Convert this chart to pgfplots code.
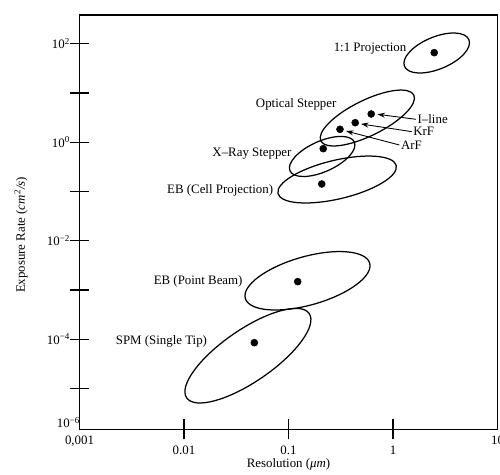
\documentclass[border=0pt]{standalone}
\usepackage{fontspec}
\setmainfont{Liberation Serif}
\usepackage{pgfplots}
\pgfplotsset{compat=1.18}
\usetikzlibrary{arrows.meta,shapes.geometric}
\begin{document}
\fontsize{10.3}{12}\selectfont
\begin{tikzpicture}[font=\fontsize{10.3}{12}\selectfont]
\begin{axis}[
  scale only axis, width=334.4pt, height=331.4pt,
  xmode=log, ymode=log,
  xmin=0.001, xmax=10, ymin=1.493e-6, ymax=382.3,
  axis line style={line width=1.2pt},
  tick style={line width=1.1pt, black},
  major tick length=16pt, tick align=center, tick pos=left,
  xminorticks=false, yminorticks=false,
  xtick={0.01,0.1,1}, xticklabels={0.01,0.1,1},
  ytick={1e-5,1e-4,1e-3,1e-2,1e-1,1,10,100},
  yticklabels={,10\textsuperscript{−4},,10\textsuperscript{−2},,10\textsuperscript{0},,10\textsuperscript{2}},
  extra x ticks={0.001,10}, extra x tick labels={{0,001},10},
  extra y ticks={2.03e-6}, extra y tick labels={10\textsuperscript{−6}},
  extra tick style={major tick length=0pt},
  every x tick label/.append style={yshift=-1.5pt},
  every y tick label/.append style={xshift=4pt},
  every axis x label/.style={at={(axis description cs:0.5,-0.0845)}, anchor=center},
  every axis y label/.style={at={(axis description cs:-0.14,0.469)}, rotate=90, anchor=center},
  xlabel={Resolution (\textit{μm})},
  ylabel={Exposure Rate (\textit{cm}\textsuperscript{2}\textit{/s})},
  clip=false,
]
\addplot[only marks, mark=*, mark size=2.8pt, black] coordinates {
  (2.48,65.7) (0.619,3.74) (0.435,2.49) (0.311,1.83)
  (0.215,0.74) (0.208,0.142) (0.1225,1.48e-3) (0.0471,8.53e-5)};
% ellipses: centre, size, rotation
\tikzset{reg/.style={draw, line width=1pt, ellipse, inner sep=0pt, outer sep=0pt}}
\node[reg, minimum width=55.8pt, minimum height=25.8pt, rotate=22.5] at (axis cs:2.62,64.7) {};
\node[reg, minimum width=83.0pt, minimum height=28.4pt, rotate=26.3] at (axis cs:0.568,3.10) {};
\node[reg, minimum width=56.4pt, minimum height=24.4pt, rotate=24.2] at (axis cs:0.210,0.514) {};
\node[reg, minimum width=97.2pt, minimum height=31.0pt, rotate=13.3] at (axis cs:0.292,0.175) {};
\node[reg, minimum width=103.4pt, minimum height=38.8pt, rotate=15.8] at (axis cs:0.152,1.54e-3) {};
\node[reg, minimum width=119.0pt, minimum height=41.6pt, rotate=34.55] at (axis cs:0.0409,4.65e-5) {};
% labels
\node[anchor=east, inner sep=0pt] at (axis cs:1.35,78.0) {1:1 Projection};
\node[anchor=east, inner sep=0pt] at (axis cs:0.289,5.97) {Optical Stepper};
\node[anchor=east, inner sep=0pt] at (axis cs:0.1074,0.597) {X--Ray Stepper};
\node[anchor=east, inner sep=0pt] at (axis cs:0.0716,0.1073) {EB (Cell Projection)};
\node[anchor=east, inner sep=0pt] at (axis cs:0.0365,1.48e-3) {EB (Point Beam)};
\node[anchor=east, inner sep=0pt] at (axis cs:0.0167,8.95e-5) {SPM (Single Tip)};
% arrows
\draw[line width=0.7pt, -{Stealth[length=6pt,width=4pt]}] (axis cs:1.66,2.92) node[anchor=west, inner sep=1pt] {I--line} -- (axis cs:0.711,3.69);
\draw[line width=0.7pt, -{Stealth[length=6pt,width=4pt]}] (axis cs:1.51,1.64) node[anchor=west, inner sep=1pt] {KrF} -- (axis cs:0.494,2.35);
\draw[line width=0.7pt, -{Stealth[length=6pt,width=4pt]}] (axis cs:1.15,0.879) node[anchor=west, inner sep=1pt] {ArF} -- (axis cs:0.355,1.69);
\end{axis}
\pgfresetboundingbox
\path[use as bounding box] ([shift={(-63.6pt,-35.8pt)}]current axis.south west) rectangle ([shift={(2pt,12pt)}]current axis.north east);
\end{tikzpicture}
\end{document}
